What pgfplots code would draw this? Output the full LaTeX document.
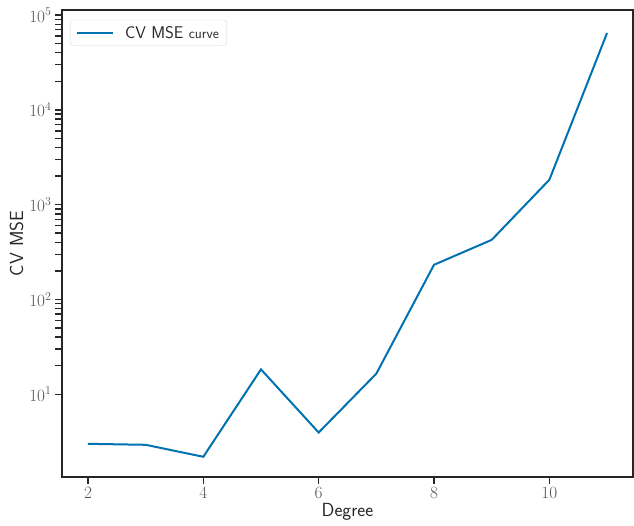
\documentclass[border=0pt]{standalone}
\usepackage{pgfplots}
\pgfplotsset{compat=1.18}
\definecolor{cvblue}{HTML}{0072B2}
\definecolor{axgray}{HTML}{262626}
\definecolor{ticklab}{HTML}{555555}
\begin{document}
\begin{tikzpicture}
\begin{axis}[
  scale only axis, width=571bp, height=467bp,
  xmin=1.55, xmax=11.45,
  ymode=log, ymin=1.34, ymax=113000,
  xtick={2,4,6,8,10},
  ytick={10,100,1000,10000,100000},
  tick pos=left,
  tick align=outside,
  major tick length=7bp, minor tick length=7bp,
  every tick/.style={line width=1.4bp, color=axgray},
  axis line style={line width=1.8bp, color=axgray},
  ticklabel style={font=\fontsize{17}{17}\selectfont, color=ticklab},
  xlabel={Degree}, ylabel={CV MSE},
  label style={font=\sffamily\fontsize{19}{19}\selectfont, color=axgray},
  xlabel style={yshift=2bp},
  ylabel style={yshift=-1bp},
  legend style={at={(0.014,0.979)}, anchor=north west, draw=black!15, rounded corners=3bp,
    fill=white, font=\sffamily\fontsize{17}{17}\selectfont, text=axgray,
    inner xsep=6bp, inner ysep=4bp},
  legend cell align=left,
  legend image code/.code={\draw[#1] (0bp,0bp) -- (36bp,0bp);},
  legend image post style={line width=2bp},
]
\addplot[color=cvblue, line width=2bp] coordinates {
  (2,3.0) (3,2.93) (4,2.19) (5,18.3) (6,3.95) (7,16.5) (8,232) (9,425) (10,1830) (11,64600)
};
\addlegendentry{\hspace*{9bp}CV MSE {\fontsize{14}{14}\selectfont curve}}
\end{axis}
\pgfresetboundingbox
\path[use as bounding box] ([shift={(-62bp,-48bp)}]current axis.south west) rectangle ([shift={(1bp,10bp)}]current axis.north east);
\end{tikzpicture}
\end{document}
